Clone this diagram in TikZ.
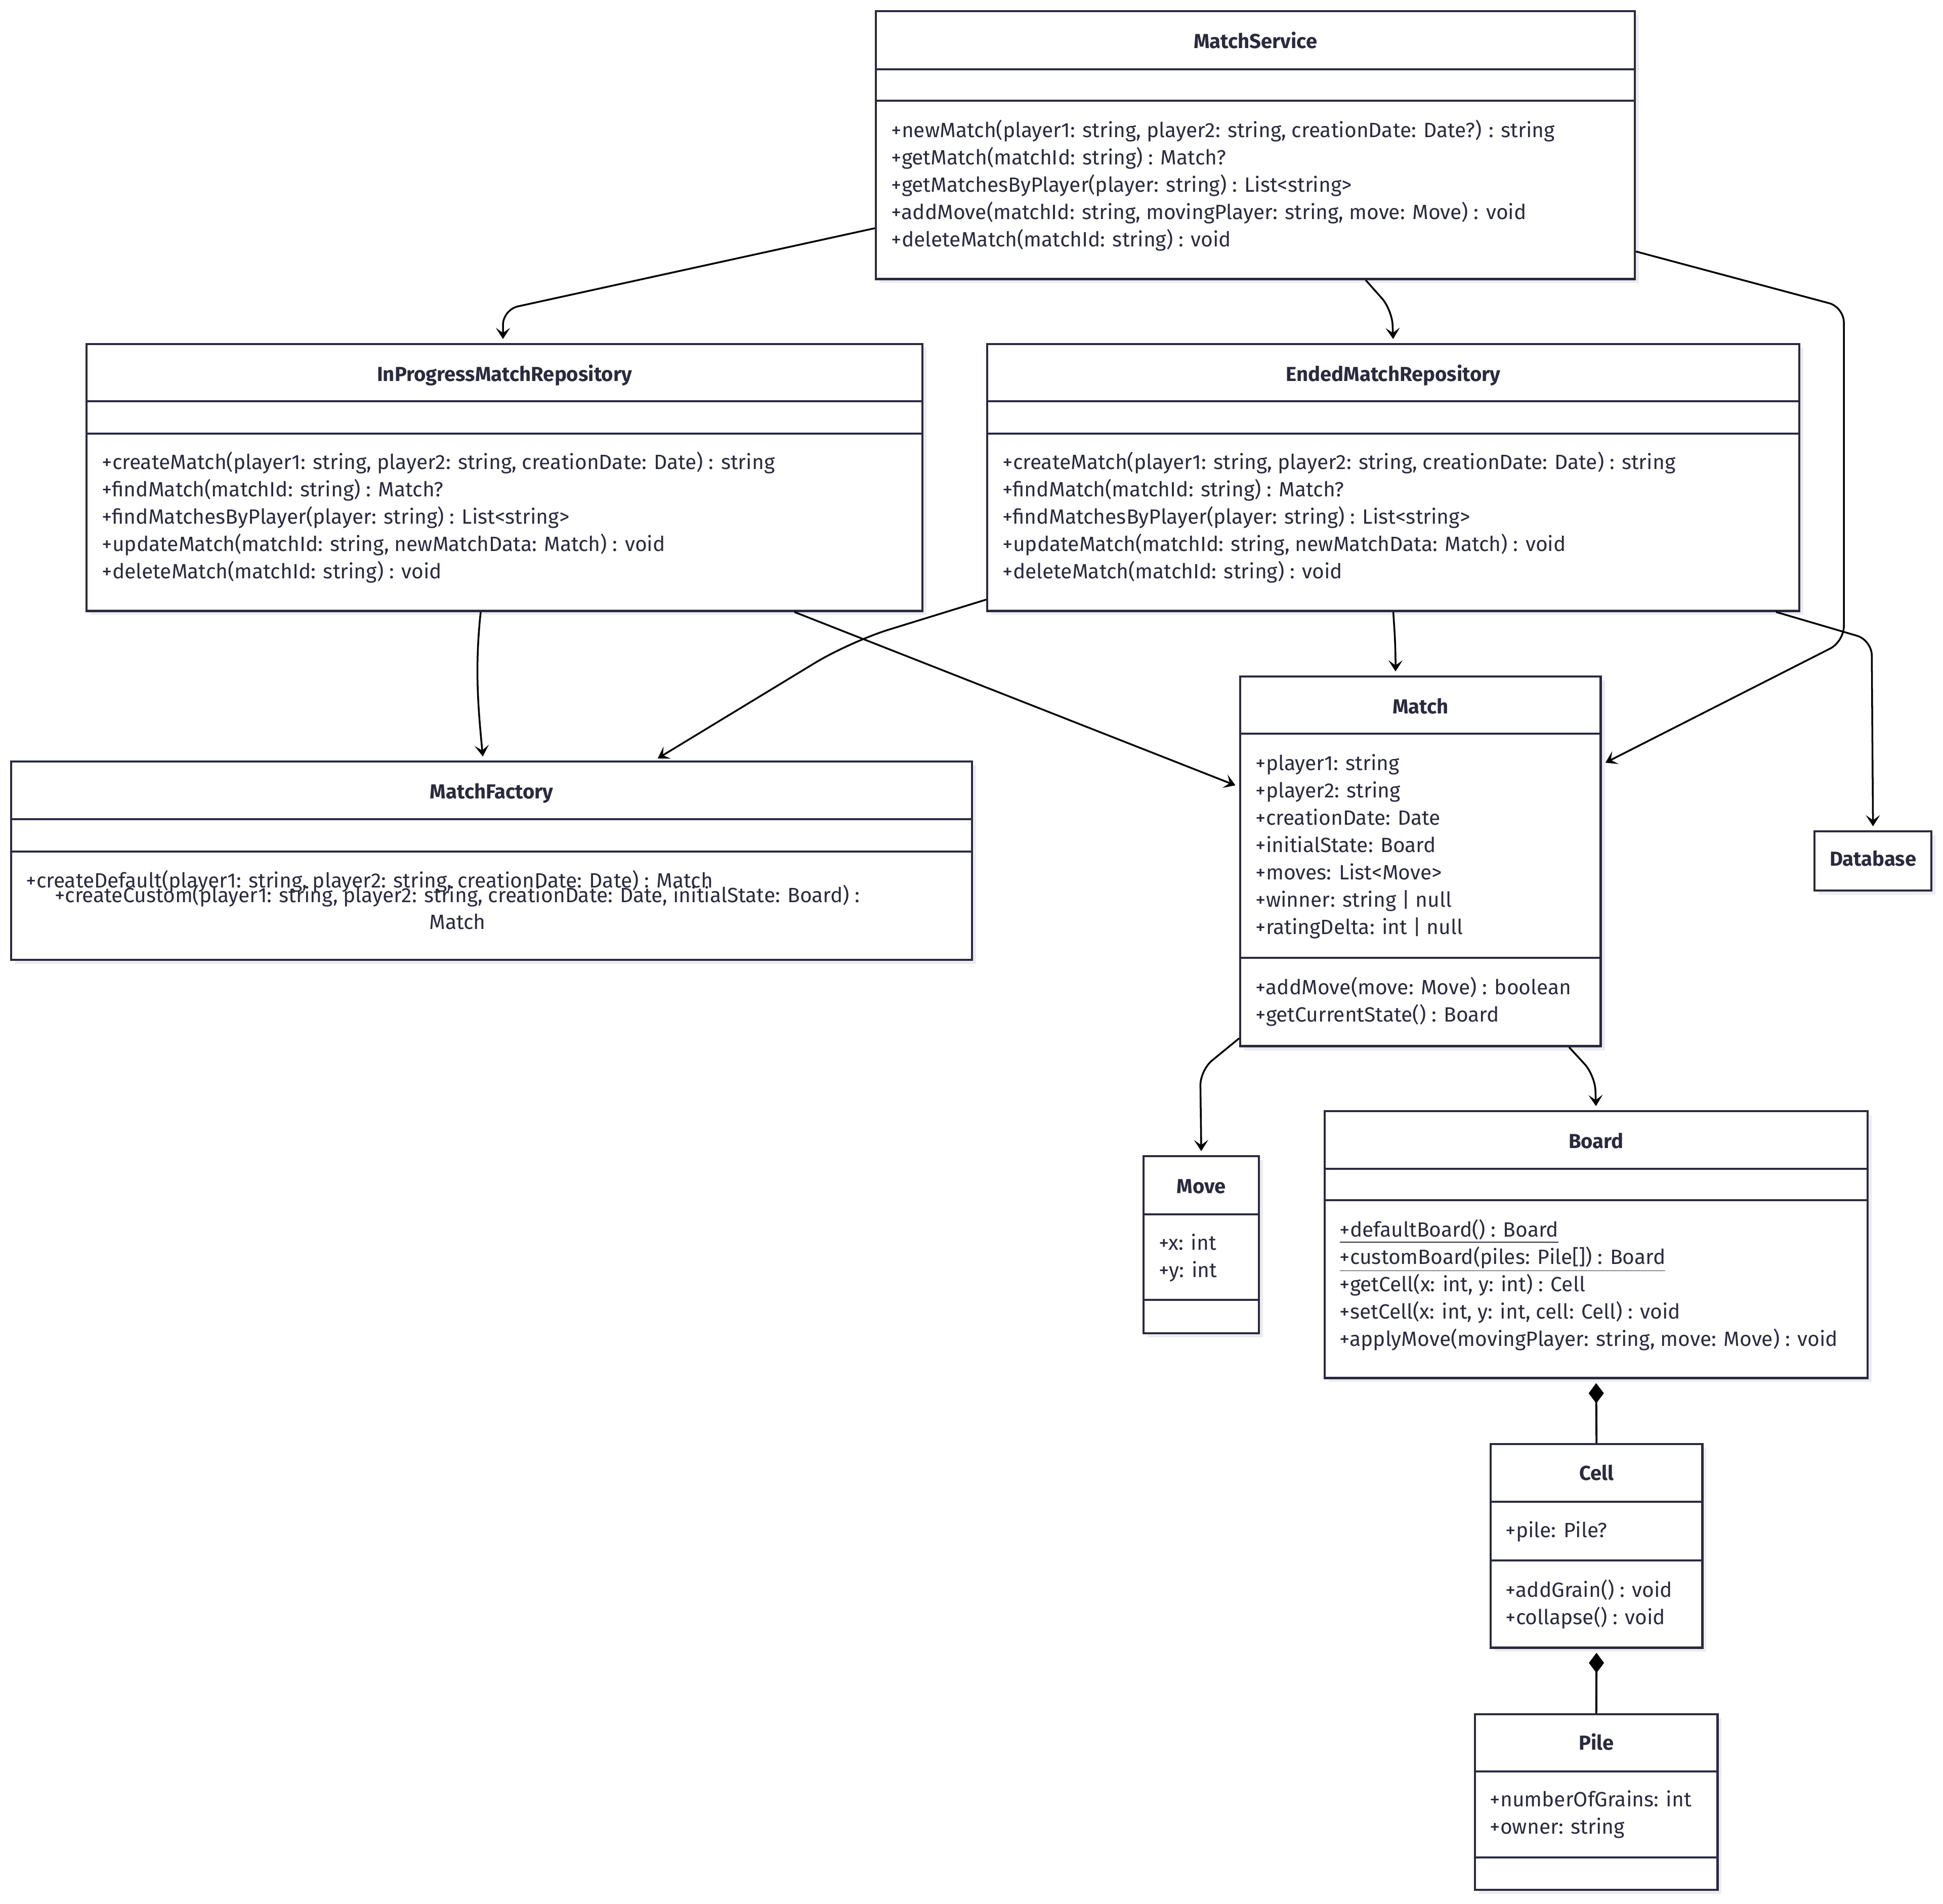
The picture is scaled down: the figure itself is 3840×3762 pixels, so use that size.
\documentclass[tikz,border=0pt]{standalone}
\usepackage{fontspec}
\setmainfont{Fira Sans}
\usetikzlibrary{arrows.meta}
\usetikzlibrary{shadows}
\definecolor{umlink}{HTML}{2A2A3F}
\definecolor{umlshadow}{HTML}{ECECF0}

\begin{document}
\begin{tikzpicture}
    [
    x=0.01cm, y=-0.01cm,
    classbox/.style={draw=umlink,line width=1.2pt,fill=white,anchor=north west,inner sep=0pt,
      general shadow={fill=umlshadow,shadow xshift=0.08cm,shadow yshift=-0.08cm}},
    classname/.style={font=\bfseries\fontsize{11.4}{13}\selectfont,text=umlink,inner sep=0pt,
      text height=0.75em,text depth=0.2em},
    member/.style={font=\fontsize{11.6}{13}\selectfont,text=umlink,anchor=base west,inner sep=0pt},
    divider/.style={draw=umlink,line width=1.2pt},
    assoc/.style={draw=black,line width=1pt,rounded corners=0.3cm,
      -{Stealth[length=0.22cm,width=0.28cm,inset=0.1cm]},shorten >=0.08cm},
    compose/.style={draw=black,line width=1.1pt,-{Diamond[length=0.4cm,width=0.3cm]},shorten >=0.08cm},
    ]
    \fill[white] (0,0) rectangle (3840,3762);
    \useasboundingbox (0,0) rectangle (3840,3762);

    % MatchService
    \node[classbox,minimum width=14.99cm,minimum height=5.29cm] (service) at (1729,20) {};
    \draw[divider] (service.west |- 0,137) -- (service.east |- 0,137);
    \draw[divider] (service.west |- 0,199) -- (service.east |- 0,199);
    \node[classname] (service-name) at (service.north |- 0,86) {MatchService};
    \foreach \m [count=\i from 0] in {{+newMatch(player1: string, player2: string, creationDate: Date?) : string},
      {+getMatch(matchId: string) : Match?},{+getMatchesByPlayer(player: string) : List<string>},
      {+addMove(matchId: string, movingPlayer: string, move: Move) : void},{+deleteMatch(matchId: string) : void}}
      \node[member] (service-m\i) at (1761,271+54*\i) {\m};

    % InProgressMatchRepository
    \node[classbox,minimum width=16.51cm,minimum height=5.27cm] (inprog) at (169,678) {};
    \draw[divider] (inprog.west |- 0,793) -- (inprog.east |- 0,793);
    \draw[divider] (inprog.west |- 0,857) -- (inprog.east |- 0,857);
    \node[classname] (inprog-name) at (inprog.north |- 0,744) {InProgressMatchRepository};
    \foreach \m [count=\i from 0] in {{+createMatch(player1: string, player2: string, creationDate: Date) : string},
      {+findMatch(matchId: string) : Match?},{+findMatchesByPlayer(player: string) : List<string>},
      {+updateMatch(matchId: string, newMatchData: Match) : void},{+deleteMatch(matchId: string) : void}}
      \node[member] (inprog-m\i) at (201,927+54*\i) {\m};

    % EndedMatchRepository
    \node[classbox,minimum width=16.04cm,minimum height=5.27cm] (ended) at (1949,678) {};
    \draw[divider] (ended.west |- 0,793) -- (ended.east |- 0,793);
    \draw[divider] (ended.west |- 0,857) -- (ended.east |- 0,857);
    \node[classname] (ended-name) at (ended.north |- 0,744) {EndedMatchRepository};
    \foreach \m [count=\i from 0] in {{+createMatch(player1: string, player2: string, creationDate: Date) : string},
      {+findMatch(matchId: string) : Match?},{+findMatchesByPlayer(player: string) : List<string>},
      {+updateMatch(matchId: string, newMatchData: Match) : void},{+deleteMatch(matchId: string) : void}}
      \node[member] (ended-m\i) at (1981,927+54*\i) {\m};

    % MatchFactory
    \node[classbox,minimum width=18.98cm,minimum height=3.92cm] (factory) at (20,1503) {};
    \draw[divider] (factory.west |- 0,1619) -- (factory.east |- 0,1619);
    \draw[divider] (factory.west |- 0,1683) -- (factory.east |- 0,1683);
    \node[classname] (factory-name) at (factory.north |- 0,1569) {MatchFactory};
    \node[member] (factory-m0) at (51,1754) {+createDefault(player1: string, player2: string, creationDate: Date) : Match};
    \node[member,anchor=base] (factory-m1) at (904,1783) {+createCustom(player1: string, player2: string, creationDate: Date, initialState: Board) :};
    \node[member,anchor=base] (factory-m2) at (904,1836) {Match};

    % Match
    \node[classbox,minimum width=7.12cm,minimum height=7.3cm] (match) at (2449,1335) {};
    \draw[divider] (match.west |- 0,1450) -- (match.east |- 0,1450);
    \draw[divider] (match.west |- 0,1893) -- (match.east |- 0,1893);
    \node[classname] (match-name) at (match.north |- 0,1401) {Match};
    \foreach \m [count=\i from 0] in {{+player1: string},{+player2: string},{+creationDate: Date},
      {+initialState: Board},{+moves: List<Move>},{+winner: string | null},{+ratingDelta: int | null}}
      \node[member] (match-a\i) at (2481,1522+54*\i) {\m};
    \foreach \m [count=\i from 0] in {{+addMove(move: Move) : boolean},{+getCurrentState() : Board}}
      \node[member] (match-m\i) at (2481,1965+54*\i) {\m};

    % Database
    \node[classbox,minimum width=2.31cm,minimum height=1.17cm] (database) at (3584,1641) {};
    \node[classname] (database-name) at (database.center) {Database};

    % Move
    \node[classbox,minimum width=2.28cm,minimum height=3.5cm] (move) at (2258,2283) {};
    \draw[divider] (move.west |- 0,2400) -- (move.east |- 0,2400);
    \draw[divider] (move.west |- 0,2569) -- (move.east |- 0,2569);
    \node[classname] (move-name) at (move.north |- 0,2349) {Move};
    \node[member] (move-a0) at (2290,2470) {+x: int};
    \node[member] (move-a1) at (2290,2524) {+y: int};

    % Board
    \node[classbox,minimum width=10.72cm,minimum height=5.27cm] (board) at (2616,2194) {};
    \draw[divider] (board.west |- 0,2310) -- (board.east |- 0,2310);
    \draw[divider] (board.west |- 0,2372) -- (board.east |- 0,2372);
    \node[classname] (board-name) at (board.north |- 0,2260) {Board};
    \foreach \m [count=\i from 0] in {{\underline{+defaultBoard() : Board}},{\underline{+customBoard(piles: Pile[]) : Board}},
      {+getCell(x: int, y: int) : Cell},{+setCell(x: int, y: int, cell: Cell) : void},
      {+applyMove(movingPlayer: string, move: Move) : void}}
      \node[member] (board-m\i) at (2647,2444+54*\i) {\m};

    % Cell
    \node[classbox,minimum width=4.18cm,minimum height=4.02cm] (cell) at (2944,2852) {};
    \draw[divider] (cell.west |- 0,2968) -- (cell.east |- 0,2968);
    \draw[divider] (cell.west |- 0,3084) -- (cell.east |- 0,3084);
    \node[classname] (cell-name) at (cell.north |- 0,2916) {Cell};
    \node[member] (cell-a0) at (2975,3038) {+pile: Pile?};
    \node[member] (cell-m0) at (2975,3156) {+addGrain() : void};
    \node[member] (cell-m1) at (2975,3210) {+collapse() : void};

    % Pile
    \node[classbox,minimum width=4.79cm,minimum height=3.47cm] (pile) at (2913,3386) {};
    \draw[divider] (pile.west |- 0,3501) -- (pile.east |- 0,3501);
    \draw[divider] (pile.west |- 0,3671) -- (pile.east |- 0,3671);
    \node[classname] (pile-name) at (pile.north |- 0,3449) {Pile};
    \node[member] (pile-a0) at (2944,3570) {+numberOfGrains: int};
    \node[member] (pile-a1) at (2944,3624) {+owner: string};

    % relations
    \draw[assoc] (service.west |- 0,451) -- (994,612) -- (994,0 |- inprog.north);
    \draw[assoc] (2699,0 |- service.south) -- (2751,612) -- (ended.north);
    \draw[assoc] (service.east |- 0,497) -- (3644,607) -- (3644,1268) -- (match.east |- 0,1511);
    \draw[assoc] (950,0 |- inprog.south) .. controls (938,1320) and (945,1400) .. (955,0 |- factory.north);
    \draw[assoc] (1570,0 |- inprog.south) -- (match.west |- 0,1555);
    \draw[assoc,rounded corners=0.8cm] (ended.west |- 0,1185) -- (1680,1268) -- (1293,0 |- factory.north);
    \draw[assoc] (ended.south) -- (2758,1280) -- (2758,0 |- match.north);
    \draw[assoc] (3510,0 |- ended.south) -- (3699,1265) -- (database.north);
    \draw[assoc] (match.west |- 0,2052) -- (2372,2115) -- (move.north);
    \draw[assoc] (3101,0 |- match.south) -- (3152,2125) -- (board.north);
    \draw[compose] (cell.north) -- (board.south);
    \draw[compose] (pile.north) -- (cell.south);
\end{tikzpicture}
\end{document}
